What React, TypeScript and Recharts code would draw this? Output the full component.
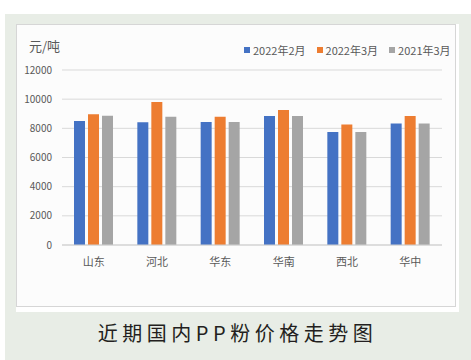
import React from 'react';
import { BarChart, Bar, XAxis, YAxis, CartesianGrid } from 'recharts';

const regions = ['山东', '河北', '华东', '华南', '西北', '华中'];
const feb2022 = [8500, 8410, 8430, 8840, 7750, 8340];
const mar2022 = [8960, 9800, 8800, 9250, 8270, 8840];
const mar2021 = [8860, 8800, 8430, 8840, 7750, 8340];
const yTicks = [0, 2000, 4000, 6000, 8000, 10000, 12000];

const seriesInfo = [
  { key: 'feb2022', name: '2022年2月', color: '#4472C4' },
  { key: 'mar2022', name: '2022年3月', color: '#ED7D31' },
  { key: 'mar2021', name: '2021年3月', color: '#A5A5A5' },
];

const data = regions.map((r, i) => ({
  region: r,
  feb2022: feb2022[i],
  mar2022: mar2022[i],
  mar2021: mar2021[i],
}));

const FONT = '"Noto Sans CJK SC", "Noto Sans", sans-serif';

export default function App() {
  return (
    <div style={{ position: 'absolute', left: 0, top: 0, width: 471, height: 360, background: '#ffffff' }}>
      <div style={{ position: 'absolute', left: 5, top: 14, width: 466, height: 346, background: '#e8ede6' }} />
      <div style={{ position: 'absolute', left: 16, top: 24, width: 443, height: 288, background: '#ffffff' }} />
      <div style={{ position: 'absolute', left: 16, top: 24, width: 440, height: 283, background: '#fcfcfc', boxSizing: 'border-box', border: '1px solid #d6d6d6' }}>
        <div style={{ position: 'absolute', left: 12, top: 11, fontFamily: FONT, fontSize: 13, color: '#595959' }}>元/吨</div>
        <div style={{ position: 'absolute', left: 227, top: 18, display: 'flex', whiteSpace: 'nowrap', fontFamily: FONT, fontSize: 11, color: '#595959', lineHeight: '14px' }}>
          {seriesInfo.map((s) => (
            <div key={s.key} style={{ display: 'flex', alignItems: 'center', marginRight: 11, whiteSpace: 'nowrap' }}>
              <span style={{ display: 'inline-block', width: 6, height: 6, background: s.color, marginRight: 3 }} />
              <span>{s.name}</span>
            </div>
          ))}
        </div>
        <div style={{ position: 'absolute', left: -1, top: -1 }}>
          <BarChart width={440} height={283} data={data} margin={{ top: 46, right: 14, bottom: 32, left: 0 }} barGap={3}>
            <CartesianGrid horizontal vertical={false} stroke="#d9d9d9" />
            <XAxis
              dataKey="region"
              height={30}
              axisLine={{ stroke: '#d0d0d0' }}
              tickLine={false}
              tickSize={0}
              tickMargin={13}
              tick={{ fontFamily: FONT, fontSize: 11, fill: '#595959' }}
            />
            <YAxis
              width={46}
              domain={[0, 12000]}
              ticks={yTicks}
              axisLine={false}
              tickLine={false}
              tickSize={0}
              tickMargin={10}
              tick={{ fontFamily: FONT, fontSize: 10, fill: '#595959' }}
            />
            {seriesInfo.map((s) => (
              <Bar key={s.key} dataKey={s.key} name={s.name} fill={s.color} barSize={11} isAnimationActive={false} />
            ))}
          </BarChart>
        </div>
      </div>
      <div
        style={{
          position: 'absolute',
          left: 0,
          width: 471,
          top: 319,
          textAlign: 'center',
          fontFamily: FONT,
          fontSize: 20,
          letterSpacing: 4.5,
          paddingLeft: 4,
          boxSizing: 'border-box',
          color: '#231f20',
          lineHeight: '28px',
          whiteSpace: 'nowrap',
        }}
      >
        近期国内PP粉价格走势图
      </div>
    </div>
  );
}
